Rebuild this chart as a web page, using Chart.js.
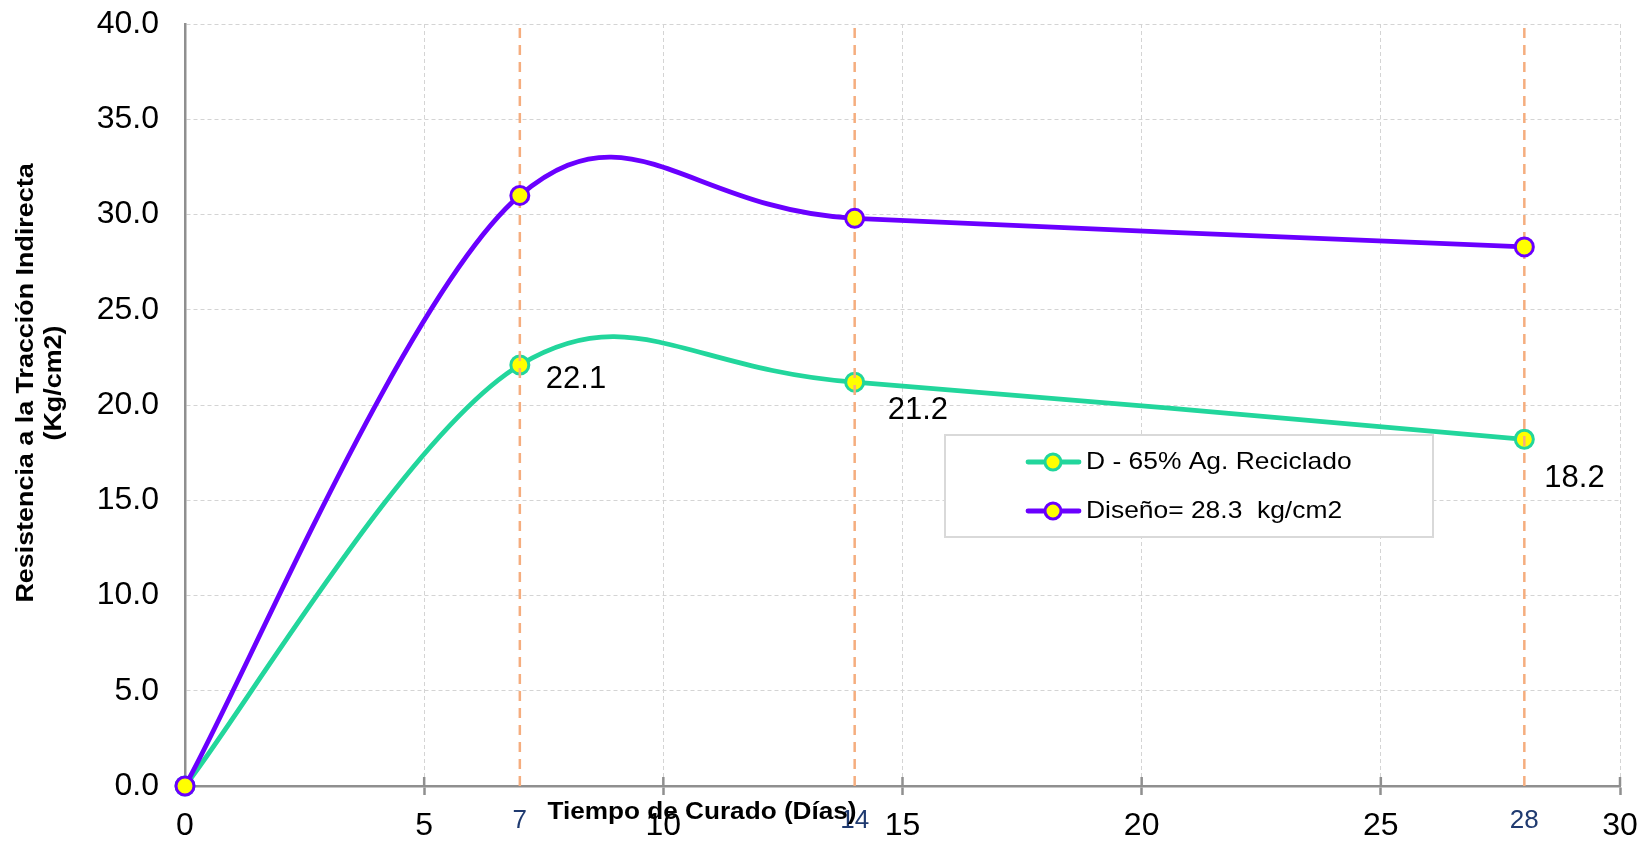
<!DOCTYPE html>
<html>
<head>
<meta charset="utf-8">
<script src="https://cdn.jsdelivr.net/npm/chart.js@4.4.1/dist/chart.umd.min.js"></script>
<style>
  html, body { margin: 0; padding: 0; background: #fff; }
  #wrap { width: 1650px; height: 844px; }
</style>
</head>
<body>
<div id="wrap"><canvas id="curadoChart" width="1650" height="844"></canvas></div>
<script>
// Datos del ensayo: días de curado y resistencia (kg/cm2)
const dias = [0, 7, 14, 28];
const recicladoD65 = [0, 22.1, 21.2, 18.2];
const diseno = [0, 31.0, 29.8, 28.3];

// días de ensayo marcados con línea vertical
const diasMarcados = [7, 14, 28];

// marcas de los ejes
const xTicks = [0, 5, 10, 15, 20, 25, 30];
const yTicks = [0, 5, 10, 15, 20, 25, 30, 35, 40];

const nombreReciclado = "D - 65% Ag. Reciclado";
const nombreDiseno = "Diseño= 28.3  kg/cm2";
const tituloX = "Tiempo de Curado (Días)";
const tituloY = ["Resistencia a la Tracción Indirecta", "(Kg/cm2)"];

// colores
const VERDE = "#22d69c";
const MORADO = "#6a00ff";
const AMARILLO = "#ffff00";
const NARANJA = "#f5ad7e";
const GRIS_EJE = "#8f8f8f";
const GRIS_GRILLA = "#d4d4d4";
const AZUL_DIAS = "#1f3a70";

// desplazamiento de cada etiqueta de valor respecto a su punto
const desplazEtiquetas = [[0, 0], [26, 14], [33, 28], [20, 39]];

const FUENTE = "'Liberation Sans', Arial, sans-serif";
Chart.defaults.font.family = FUENTE;
Chart.defaults.color = "#000";

const puntos = (xs, ys) => xs.map((x, i) => ({ x: x, y: ys[i] }));
const yMin = yTicks[0];
const yMax = yTicks[yTicks.length - 1];

const serieDiseno = {
  label: nombreDiseno,
  data: puntos(dias, diseno),
  borderColor: MORADO,
  backgroundColor: AMARILLO,
  pointBackgroundColor: AMARILLO,
  pointBorderColor: MORADO,
  pointRadius: 9,
  pointBorderWidth: 3,
  borderWidth: 4.8,
  tension: 0.5,
  clip: false,
  order: 0
};

const serieReciclado = {
  label: nombreReciclado,
  data: puntos(dias, recicladoD65),
  borderColor: VERDE,
  backgroundColor: AMARILLO,
  pointBackgroundColor: AMARILLO,
  pointBorderColor: VERDE,
  pointRadius: 9,
  pointBorderWidth: 3,
  borderWidth: 4.8,
  tension: 0.5,
  clip: false,
  order: 2
};

const lineasDias = diasMarcados.map(d => ({
  data: [{ x: d, y: yMin }, { x: d, y: yMax }],
  borderColor: NARANJA,
  borderWidth: 2.5,
  borderDash: [10, 7],
  pointRadius: 0,
  tension: 0,
  order: 1
}));

// suavizado tipo hoja de cálculo: tangente = (siguiente - anterior) / 6
const suavizado = {
  id: "suavizado",
  afterDatasetsUpdate(chart) {
    [serieDiseno, serieReciclado].forEach(ds => {
      const meta = chart.getDatasetMeta(chart.data.datasets.indexOf(ds));
      const pts = meta.data;
      const n = pts.length;
      pts.forEach((p, i) => {
        const ant = pts[Math.max(i - 1, 0)];
        const sig = pts[Math.min(i + 1, n - 1)];
        const dx = (sig.x - ant.x) / 6;
        const dy = (sig.y - ant.y) / 6;
        p.cp1x = p.x - dx;
        p.cp1y = p.y - dy;
        p.cp2x = p.x + dx;
        p.cp2y = p.y + dy;
      });
      meta.dataset._pointsUpdated = true;
    });
  }
};

// etiquetas, leyenda, títulos y marcas cruzadas del eje X
const extras = {
  id: "extras",
  beforeDatasetsDraw(chart) {
    const ctx = chart.ctx;
    const xs = chart.scales.x;
    const base = chart.chartArea.bottom;
    ctx.save();
    ctx.strokeStyle = GRIS_EJE;
    ctx.lineWidth = 2.5;
    xTicks.forEach(v => {
      if (v === xTicks[0]) return;
      const px = xs.getPixelForValue(v);
      ctx.beginPath();
      ctx.moveTo(px, base - 9);
      ctx.lineTo(px, base);
      ctx.stroke();
    });
    ctx.restore();
  },
  afterDraw(chart) {
    const ctx = chart.ctx;
    const xs = chart.scales.x;
    ctx.save();

    // valores de la serie reciclada
    const idxRec = chart.data.datasets.indexOf(serieReciclado);
    const meta = chart.getDatasetMeta(idxRec);
    ctx.font = "31px " + FUENTE;
    ctx.fillStyle = "#000";
    ctx.textAlign = "left";
    ctx.textBaseline = "middle";
    meta.data.forEach((pt, i) => {
      if (i === 0) return;
      const [dx, dy] = desplazEtiquetas[i];
      ctx.fillText(recicladoD65[i].toFixed(1), pt.x + dx, pt.y + dy);
    });

    // días de ensayo bajo el eje
    ctx.font = "26px " + FUENTE;
    ctx.fillStyle = AZUL_DIAS;
    ctx.textAlign = "center";
    diasMarcados.forEach(d => {
      ctx.fillText(String(d), xs.getPixelForValue(d), 821);
    });

    // título eje X
    ctx.font = "bold 24px " + FUENTE;
    ctx.fillStyle = "#000";
    ctx.save();
    ctx.translate(702, 812);
    ctx.scale(1.09, 1);
    ctx.fillText(tituloX, 0, 0);
    ctx.restore();

    // título eje Y
    ctx.save();
    ctx.translate(0, 383);
    ctx.rotate(-Math.PI / 2);
    ctx.font = "bold 24px " + FUENTE;
    [[tituloY[0], 26], [tituloY[1], 54]].forEach(([txt, cx]) => {
      ctx.save();
      ctx.translate(0, cx);
      ctx.scale(1.12, 1);
      ctx.fillText(txt, 0, 0);
      ctx.restore();
    });
    ctx.restore();

    // leyenda
    ctx.fillStyle = "#fff";
    ctx.fillRect(945, 435, 488, 102);
    ctx.strokeStyle = "#d9d9d9";
    ctx.lineWidth = 2;
    ctx.strokeRect(945, 435, 488, 102);
    [serieReciclado, serieDiseno].forEach((ds, i) => {
      const y = 462 + i * 49;
      ctx.strokeStyle = ds.borderColor;
      ctx.lineWidth = ds.borderWidth;
      ctx.lineCap = "round";
      ctx.beginPath();
      ctx.moveTo(1028, y);
      ctx.lineTo(1079, y);
      ctx.stroke();
      ctx.beginPath();
      ctx.arc(1053, y, 8, 0, Math.PI * 2);
      ctx.fillStyle = ds.pointBackgroundColor;
      ctx.fill();
      ctx.lineWidth = ds.pointBorderWidth;
      ctx.strokeStyle = ds.pointBorderColor;
      ctx.stroke();
      ctx.save();
      ctx.translate(1086, y);
      ctx.scale(1.1, 1);
      ctx.font = "24px " + FUENTE;
      ctx.fillStyle = "#000";
      ctx.textAlign = "left";
      ctx.fillText(ds.label, 0, 0);
      ctx.restore();
    });

    ctx.restore();
  }
};

new Chart(document.getElementById("curadoChart"), {
  type: "line",
  data: {
    datasets: [serieDiseno, ...lineasDias, serieReciclado]
  },
  options: {
    responsive: false,
    animation: false,
    layout: { padding: { top: 24, right: 30, left: 0, bottom: 0 } },
    plugins: {
      legend: { display: false },
      tooltip: { enabled: false }
    },
    scales: {
      x: {
        type: "linear",
        min: xTicks[0],
        max: xTicks[xTicks.length - 1],
        afterBuildTicks: s => { s.ticks = xTicks.map(v => ({ value: v })); },
        afterFit: s => { s.height = 58; s.paddingLeft = 0; s.paddingRight = 0; },
        ticks: {
          font: { size: 32 },
          padding: 12,
          maxRotation: 0,
          callback: v => String(v)
        },
        grid: {
          color: GRIS_GRILLA,
          lineWidth: 1,
          tickLength: 9,
          tickColor: GRIS_EJE,
          tickWidth: 2.5
        },
        border: { color: GRIS_EJE, width: 2.5, dash: [4, 3] }
      },
      y: {
        min: yMin,
        max: yMax,
        afterBuildTicks: s => { s.ticks = yTicks.map(v => ({ value: v })); },
        afterFit: s => { s.width = 185; s.paddingTop = 0; s.paddingBottom = 0; },
        ticks: {
          font: { size: 32 },
          padding: 26,
          callback: v => Number(v).toFixed(1)
        },
        grid: {
          color: GRIS_GRILLA,
          lineWidth: 1,
          drawTicks: false
        },
        border: { color: GRIS_EJE, width: 2.5, dash: [4, 3] }
      }
    }
  },
  plugins: [suavizado, extras]
});
</script>
</body>
</html>
